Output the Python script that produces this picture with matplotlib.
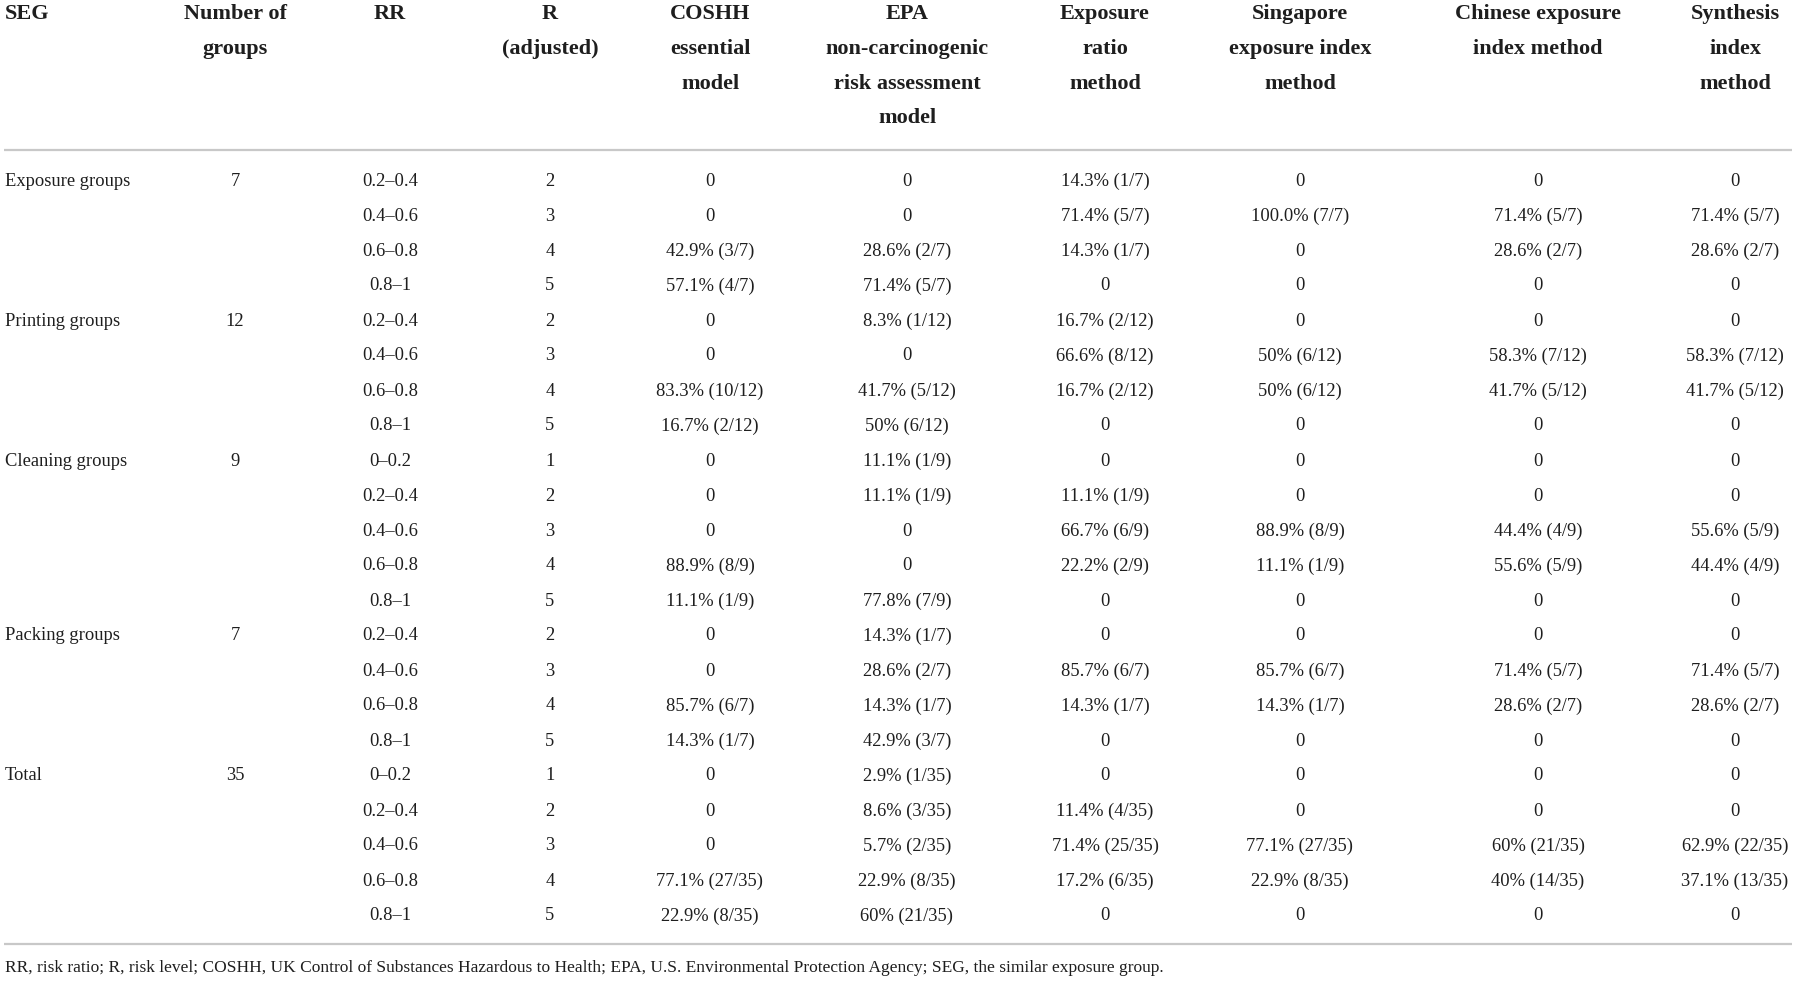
import matplotlib
matplotlib.use("Agg")
import matplotlib.pyplot as plt

plt.rcParams['font.family'] = ['Liberation Serif', 'DejaVu Serif']

# ---------------- data ----------------
headers = ["SEG", "Number of\ngroups", "RR", "R\n(adjusted)", "COSHH\nessential\nmodel",
           "EPA\nnon-carcinogenic\nrisk assessment\nmodel", "Exposure\nratio\nmethod",
           "Singapore\nexposure index\nmethod", "Chinese exposure\nindex method",
           "Synthesis\nindex\nmethod"]

groups = ["Exposure groups", "Printing groups", "Cleaning groups", "Packing groups", "Total"]
n_groups = [7, 12, 9, 7, 35]

rr = [["0.2\u20130.4", "0.4\u20130.6", "0.6\u20130.8", "0.8\u20131"],
      ["0.2\u20130.4", "0.4\u20130.6", "0.6\u20130.8", "0.8\u20131"],
      ["0\u20130.2", "0.2\u20130.4", "0.4\u20130.6", "0.6\u20130.8", "0.8\u20131"],
      ["0.2\u20130.4", "0.4\u20130.6", "0.6\u20130.8", "0.8\u20131"],
      ["0\u20130.2", "0.2\u20130.4", "0.4\u20130.6", "0.6\u20130.8", "0.8\u20131"]]
r_adj = [[2, 3, 4, 5], [2, 3, 4, 5], [1, 2, 3, 4, 5], [2, 3, 4, 5], [1, 2, 3, 4, 5]]

coshh = [["0", "0", "42.9% (3/7)", "57.1% (4/7)"],
         ["0", "0", "83.3% (10/12)", "16.7% (2/12)"],
         ["0", "0", "0", "88.9% (8/9)", "11.1% (1/9)"],
         ["0", "0", "85.7% (6/7)", "14.3% (1/7)"],
         ["0", "0", "0", "77.1% (27/35)", "22.9% (8/35)"]]
epa = [["0", "0", "28.6% (2/7)", "71.4% (5/7)"],
       ["8.3% (1/12)", "0", "41.7% (5/12)", "50% (6/12)"],
       ["11.1% (1/9)", "11.1% (1/9)", "0", "0", "77.8% (7/9)"],
       ["14.3% (1/7)", "28.6% (2/7)", "14.3% (1/7)", "42.9% (3/7)"],
       ["2.9% (1/35)", "8.6% (3/35)", "5.7% (2/35)", "22.9% (8/35)", "60% (21/35)"]]
exp_ratio = [["14.3% (1/7)", "71.4% (5/7)", "14.3% (1/7)", "0"],
             ["16.7% (2/12)", "66.6% (8/12)", "16.7% (2/12)", "0"],
             ["0", "11.1% (1/9)", "66.7% (6/9)", "22.2% (2/9)", "0"],
             ["0", "85.7% (6/7)", "14.3% (1/7)", "0"],
             ["0", "11.4% (4/35)", "71.4% (25/35)", "17.2% (6/35)", "0"]]
singapore = [["0", "100.0% (7/7)", "0", "0"],
             ["0", "50% (6/12)", "50% (6/12)", "0"],
             ["0", "0", "88.9% (8/9)", "11.1% (1/9)", "0"],
             ["0", "85.7% (6/7)", "14.3% (1/7)", "0"],
             ["0", "0", "77.1% (27/35)", "22.9% (8/35)", "0"]]
chinese = [["0", "71.4% (5/7)", "28.6% (2/7)", "0"],
           ["0", "58.3% (7/12)", "41.7% (5/12)", "0"],
           ["0", "0", "44.4% (4/9)", "55.6% (5/9)", "0"],
           ["0", "71.4% (5/7)", "28.6% (2/7)", "0"],
           ["0", "0", "60% (21/35)", "40% (14/35)", "0"]]
synthesis = [["0", "71.4% (5/7)", "28.6% (2/7)", "0"],
             ["0", "58.3% (7/12)", "41.7% (5/12)", "0"],
             ["0", "0", "55.6% (5/9)", "44.4% (4/9)", "0"],
             ["0", "71.4% (5/7)", "28.6% (2/7)", "0"],
             ["0", "0", "62.9% (22/35)", "37.1% (13/35)", "0"]]

footnote = ("RR, risk ratio; R, risk level; COSHH, UK Control of Substances Hazardous to Health; "
            "EPA, U.S. Environmental Protection Agency; SEG, the similar exposure group.")

# ---------------- layout ----------------
W, H = 1798, 982
col_x = [5, 235, 390, 550, 710, 907, 1105, 1300, 1538, 1735]
head_y0, head_dy = 14, 34.8
line_top = 150
row_y0, row_dy = 181, 35
txt_col = "#1e1e1e"
rule_col = "#c8c8c8"
fs_data = 13.3
fs_head = 16

fig = plt.figure(figsize=(W / 100, H / 100), dpi=100)
ax = fig.add_axes([0, 0, 1, 1])
ax.set_xlim(0, W)
ax.set_ylim(H, 0)
ax.axis("off")

# headers
for ci, h in enumerate(headers):
    for li, line in enumerate(h.split("\n")):
        ax.text(col_x[ci], head_y0 + li * head_dy, line,
                ha="left" if ci == 0 else "center", va="center",
                fontsize=fs_head, fontweight="bold", color=txt_col)

ax.plot([4, W - 6], [line_top, line_top], color=rule_col, lw=1.6, solid_capstyle="butt")

# body
value_cols = [coshh, epa, exp_ratio, singapore, chinese, synthesis]
row = 0
for gi, g in enumerate(groups):
    for ri in range(len(rr[gi])):
        y = row_y0 + row * row_dy
        if ri == 0:
            ax.text(col_x[0], y, g, ha="left", va="center", fontsize=fs_data, color=txt_col)
            ax.text(col_x[1], y, str(n_groups[gi]), ha="center", va="center",
                    fontsize=fs_data, color=txt_col)
        ax.text(col_x[2], y, rr[gi][ri], ha="center", va="center", fontsize=fs_data, color=txt_col)
        ax.text(col_x[3], y, str(r_adj[gi][ri]), ha="center", va="center", fontsize=fs_data, color=txt_col)
        for vi, vc in enumerate(value_cols):
            ax.text(col_x[4 + vi], y, vc[gi][ri], ha="center", va="center",
                    fontsize=fs_data, color=txt_col)
        row += 1

line_bot = row_y0 + (row - 1) * row_dy + 28
ax.plot([4, W - 6], [line_bot, line_bot], color=rule_col, lw=1.6, solid_capstyle="butt")

ax.text(5, line_bot + 24, footnote, ha="left", va="center", fontsize=12.5, color=txt_col)

fig.savefig("out.png", dpi=100, facecolor="white")
